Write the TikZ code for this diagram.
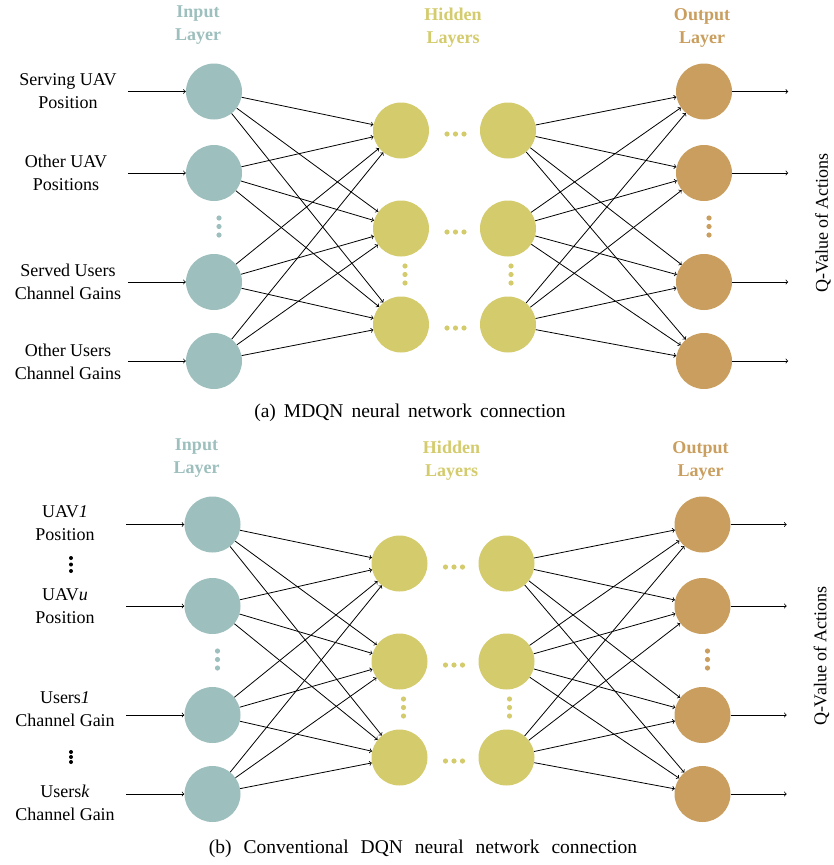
\documentclass[tikz,border=0pt]{standalone}
\usepackage{fontspec}
\setmainfont{Liberation Serif}
\usetikzlibrary{positioning}
\definecolor{inputcol}{HTML}{9DBFBD}
\definecolor{hiddencol}{HTML}{D3CB6C}
\definecolor{outputcol}{HTML}{C99E5E}
\begin{document}
\begin{tikzpicture}[x=1pt,y=-1pt,
  neuron/.style={circle,minimum size=56pt,inner sep=0pt},
  inneuron/.style={neuron,fill=inputcol},
  hidneuron/.style={neuron,fill=hiddencol},
  outneuron/.style={neuron,fill=outputcol},
  wire/.style={->,line width=0.8pt},
  head/.style={align=center,font=\fontsize{18}{23}\selectfont\bfseries},
  lbl/.style={align=center,font=\fontsize{18}{23}\selectfont},
  captext/.style={font=\fontsize{19.5}{24}\selectfont}]
\useasboundingbox (0,0) rectangle (833,865);
% both networks, (a) on top and (b) below
\foreach \p/\dx/\dy in {a/0/0,b/-1.5/433}{
\begin{scope}[shift={(\dx,\dy)}]
\foreach \n/\y in {1/91.5,2/173,3/282,4/361}{
  \node[inneuron] (\p-i\n) at (214,\y) {};
  \node[outneuron] (\p-o\n) at (704,\y) {};}
\foreach \n/\y in {1/130.5,2/228.5,3/324.5}{
  \node[hidneuron] (\p-h\n) at (401,\y) {};
  \node[hidneuron] (\p-g\n) at (508,\y) {};
  \foreach \x in {447,455.5,464} \fill[hiddencol] (\x,\y+3.5) circle (2.6pt);}
% vertical dots
\foreach \k in {0,1,2}{
  \fill[inputcol] (219,218+8.5*\k) circle (2.6pt);
  \fill[hiddencol] (405,266+8.5*\k) circle (2.6pt);
  \fill[hiddencol] (511,266+8.5*\k) circle (2.6pt);
  \fill[outputcol] (709,218+8.5*\k) circle (2.6pt);}
% weights
\foreach \s in {1,...,4}
  \foreach \t in {1,2,3}{
    \draw[wire] (\p-i\s) -- (\p-h\t);
    \draw[wire] (\p-g\t) -- (\p-o\s);}
\foreach \n in {1,...,4}{
  \coordinate[left=58pt of \p-i\n.west] (\p-s\n);
  \coordinate[right=56pt of \p-o\n.east] (\p-e\n);
  \draw[wire] (\p-s\n) -- (\p-i\n);
  \draw[wire] (\p-o\n) -- (\p-e\n);}
\node[head,text=inputcol] (\p-tin) at (198,25.5) {Input\\Layer};
\node[head,text=hiddencol] (\p-thid) at (453,27.5) {Hidden\\Layers};
\node[head,text=outputcol] (\p-tout) at (702,27.5) {Output\\Layer};
\node[lbl,rotate=90] (\p-q) at (823,223) {Q-Value of Actions};
\end{scope}}
% inputs of (a)
\node[lbl] (srv) at (68,91.5) {Serving UAV\\Position};
\node[lbl] (oth) at (66,173) {Other UAV\\Positions};
\node[lbl] (sug) at (68,281.5) {Served Users\\Channel Gains};
\node[lbl] (oug) at (68,361.5) {Other Users\\Channel Gains};
\node[captext] (capa) at (410,413) {{\spaceskip=8pt (a) MDQN neural network connection}};
% inputs of (b)
\node[lbl] (uav1) at (65,523.5) {UAV\textit{1}\\Position};
\node[lbl] (uavu) at (65,606) {UAV\textit{u}\\Position};
\node[lbl] (usr1) at (65,709) {Users\textit{1}\\Channel Gain};
\node[lbl] (usrk) at (65,803) {Users\textit{k}\\Channel Gain};
\foreach \k in {0,1,2}{
  \fill (71,558+6.5*\k) circle (2pt);
  \fill (71,752+5*\k) circle (2pt);}
\node[captext] (capb) at (423,849) {{\spaceskip=12pt (b) Conventional DQN neural network connection}};
\end{tikzpicture}
\end{document}
